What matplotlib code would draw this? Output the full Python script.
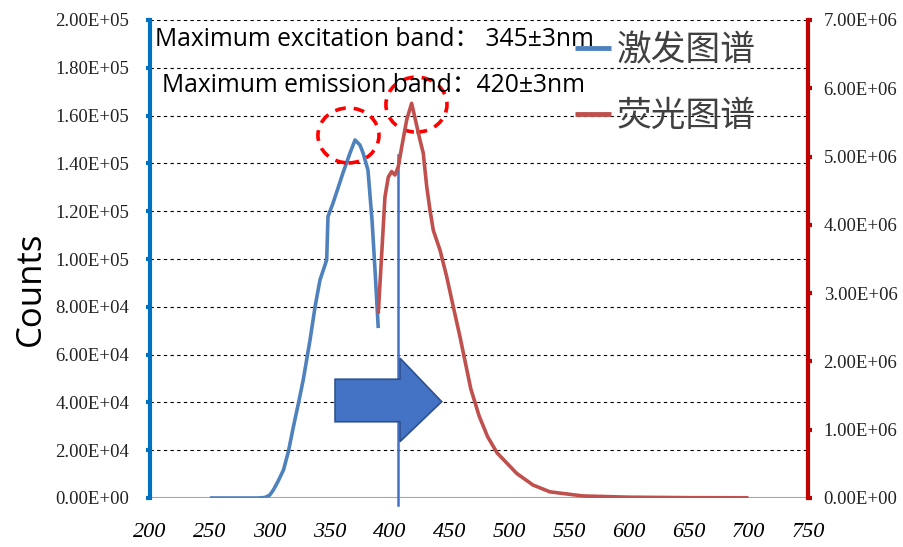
import matplotlib
matplotlib.use("Agg")
import matplotlib.pyplot as plt
from matplotlib.patches import Ellipse, Polygon

# ---------------- data ----------------
exc_wl = [250, 260, 270, 280, 290, 296, 300, 303, 307, 311.5, 315.6, 319.8, 324, 328,
          333.7, 337.9, 342, 347.6, 348.7, 352.9, 357.3, 361.2, 367, 371.3, 375.4,
          378, 382.1, 385.5, 388, 390.7]
exc_counts = [0, 0, 0, 0, 0, 200, 1200, 3300, 7000, 11700, 19400, 29800, 39600, 49400,
              66100, 80000, 91200, 99600, 117700, 123400, 130000, 136000, 144200, 149800, 147700,
              144400, 137200, 116300, 95400, 71100]

em_wl = [390.7, 393.6, 396.3, 399.1, 401.9, 404.7, 407.4, 410.3, 414.5, 418.6, 425.6, 428.3,
         431.2, 433.9, 436.7, 442.3, 447.9, 453.4, 459.0, 468, 475, 482, 490, 506.4, 520,
         534.2, 561.7, 600, 650, 700]
em_counts = [2.70e6, 3.58e6, 4.41e6, 4.70e6, 4.78e6, 4.73e6, 4.85e6, 5.14e6, 5.54e6, 5.78e6,
             5.24e6, 5.05e6, 4.56e6, 4.22e6, 3.92e6, 3.63e6, 3.24e6, 2.80e6, 2.36e6, 1.60e6,
             1.20e6, 0.90e6, 0.66e6, 0.36e6, 0.19e6, 0.09e6, 0.03e6, 0.012e6, 0.005e6, 0.003e6]

x_ticks = [200, 250, 300, 350, 400, 450, 500, 550, 600, 650, 700, 750]
left_ticks = [0, 20000, 40000, 60000, 80000, 100000, 120000, 140000, 160000, 180000, 200000]
left_labels = ["0.00E+00", "2.00E+04", "4.00E+04", "6.00E+04", "8.00E+04", "1.00E+05",
               "1.20E+05", "1.40E+05", "1.60E+05", "1.80E+05", "2.00E+05"]
right_ticks = [0, 1e6, 2e6, 3e6, 4e6, 5e6, 6e6, 7e6]
right_labels = ["0.00E+00", "1.00E+06", "2.00E+06", "3.00E+06", "4.00E+06", "5.00E+06",
                "6.00E+06", "7.00E+06"]

exc_peak = (365.8, 151700)
em_peak = (422.6, 164600)
marker_wl = 407.4
marker_top = 143500

legend_labels = ["激发图谱", "荧光图谱"]
note1 = "Maximum excitation band： 345±3nm"
note2 = "Maximum emission band：420±3nm"

# ---------------- figure ----------------
W, H = 904, 547
fig = plt.figure(figsize=(W / 100, H / 100), dpi=100)
ax = fig.add_axes([150 / W, 1 - 498 / H, (808.3 - 150) / W, (498 - 20) / H])
ax2 = ax.twinx()

serif = "Liberation Serif"
blue_c = "#4F81BD"
red_c = "#C0504D"

ax.set_xlim(200, 750)
ax.set_ylim(0, 200000)
ax2.set_ylim(0, 7e6)

for yv in left_ticks[1:]:
    ax.axhline(yv, color="black", lw=0.8, ls=(0, (3, 3)), zorder=0)
ax.axhline(0, color="#A6A6A6", lw=1.5, zorder=1)

l1, = ax.plot(exc_wl, exc_counts, color=blue_c, lw=2.6, solid_capstyle="butt", zorder=3)
l2, = ax2.plot(em_wl, em_counts, color=red_c, lw=2.6, solid_capstyle="butt", zorder=3)

# vertical marker
ax.plot([marker_wl, marker_wl], [-3000, marker_top], color="#4472C4", lw=1.8, clip_on=False, zorder=4)

# block arrow (data coords)
arrow_pts = [(354.6, 31900), (354.6, 49700), (408.9, 49700), (408.9, 58500),
             (443.7, 40300), (408.9, 23600), (408.9, 31900)]
ax.add_patch(Polygon(arrow_pts, closed=True, facecolor="#4472C4", edgecolor="#2F528F",
                     lw=1.2, zorder=5))

# dashed circles
for (cx, cy) in [exc_peak, em_peak]:
    ax.add_patch(Ellipse((cx, cy), 51, 23000, fill=False, edgecolor="#FF0000", lw=2.6,
                         ls=(0, (3, 2.2)), zorder=6, clip_on=False))

# axes styling
ax.set_xticks(x_ticks)
ax.set_xticklabels([str(v) for v in x_ticks], fontfamily=serif, fontstyle="italic", fontsize=16)
ax.tick_params(axis="x", length=0, pad=18)
ax.set_yticks(left_ticks)
ax.set_yticklabels(left_labels, fontfamily=serif, fontsize=13.5, color="#222222")
ax.tick_params(axis="y", length=3, width=3, color="#0070C0", pad=12)
ax2.set_yticks(right_ticks)
ax2.set_yticklabels(right_labels, fontfamily=serif, fontsize=13.5, color="#222222")
ax2.tick_params(axis="y", length=3, width=3, color="#C00000", pad=8)

for a in (ax, ax2):
    a.spines["top"].set_visible(False)
    a.spines["bottom"].set_visible(False)
    a.patch.set_visible(False)
ax.spines["right"].set_visible(False)
ax.spines["left"].set_color("#0070C0")
ax.spines["left"].set_linewidth(3)
ax2.spines["left"].set_visible(False)
ax2.spines["right"].set_color("#C00000")
ax2.spines["right"].set_linewidth(3)

fig.text(30.5 / W, 1 - 289 / H, "Counts", rotation=90, ha="center", va="center",
         fontsize=25, family=["Open Sans", "Noto Sans CJK SC"])

fig.text(155 / W, 1 - 40 / H, note1, ha="left", va="center", fontsize=17.7,
         family=["Open Sans", "Noto Sans CJK SC"], zorder=10)
fig.text(162 / W, 1 - 85 / H, note2, ha="left", va="center", fontsize=17.7,
         family=["Open Sans", "Noto Sans CJK SC"], zorder=10)

leg = ax2.legend([l1, l2], legend_labels, loc="upper left", bbox_to_anchor=(575 / W, 1 - 33 / H),
                 bbox_transform=fig.transFigure, frameon=False, handlelength=1.05,
                 handletextpad=0.15, labelspacing=0.9, borderpad=0, borderaxespad=0,
                 prop={"family": "Noto Sans CJK SC", "size": 25})
for t in leg.get_texts():
    t.set_color("#404040")
for lh in leg.get_lines():
    lh.set_linewidth(3.5)

fig.savefig("out.png", dpi=100)
